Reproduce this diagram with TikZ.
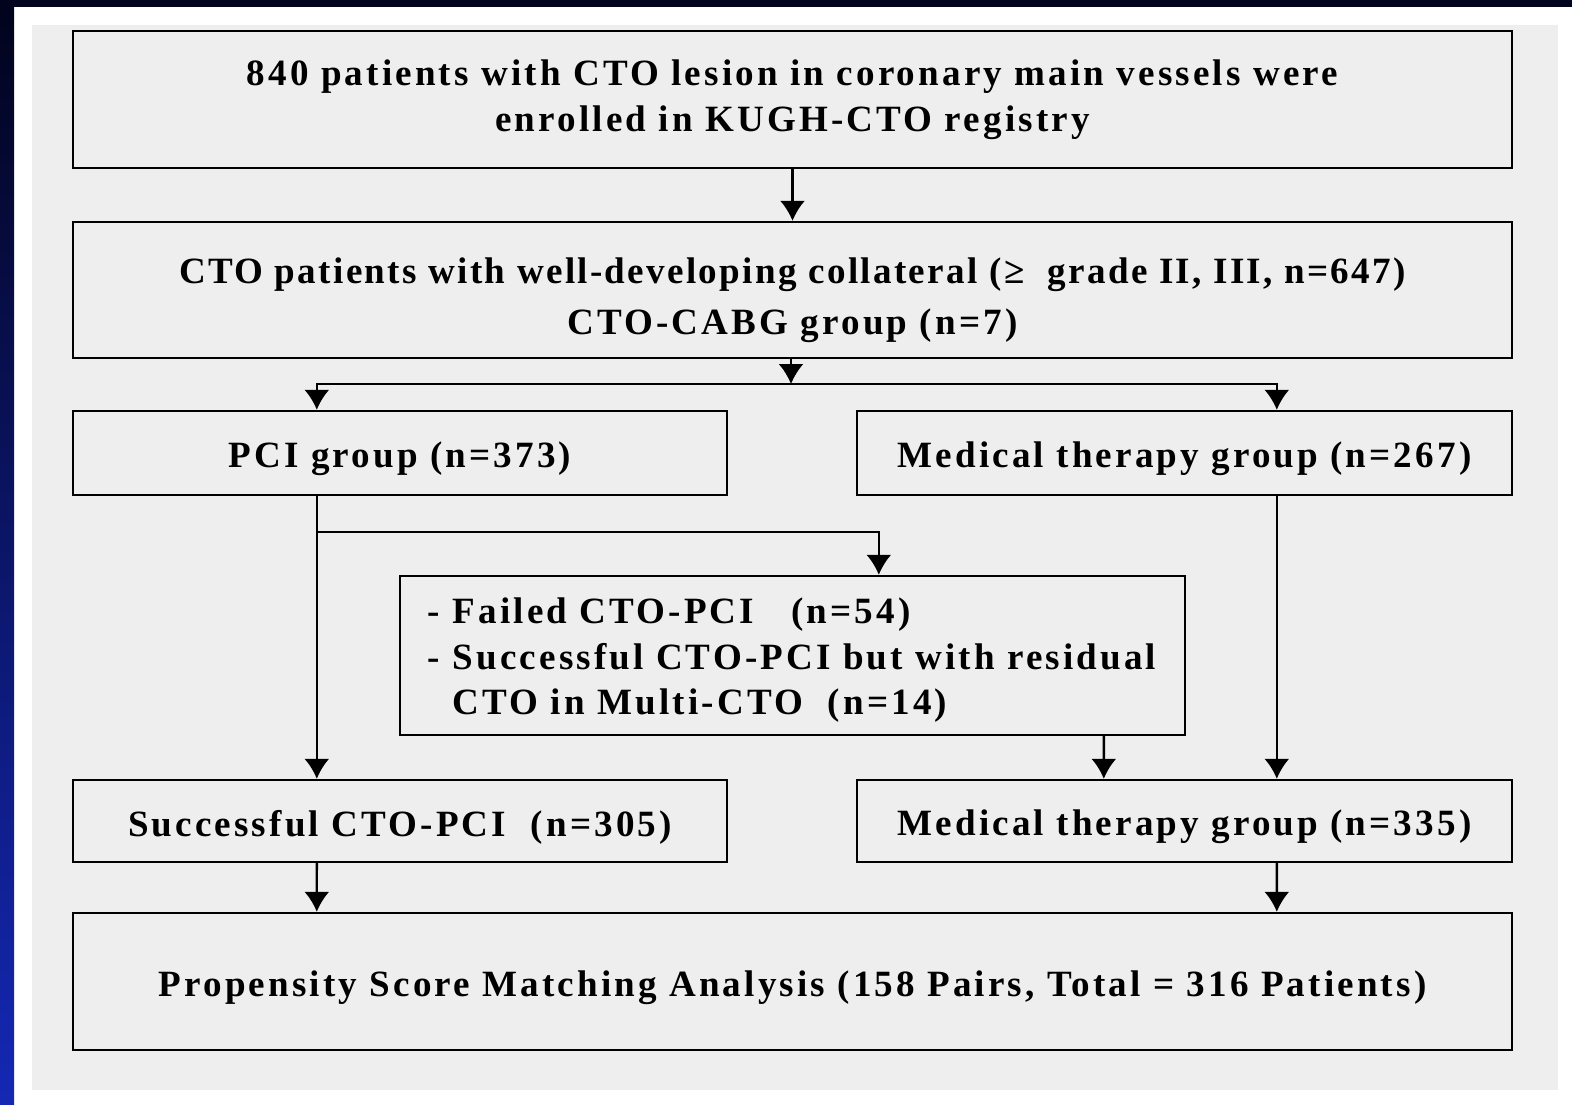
\documentclass[tikz,border=0pt]{standalone}
\usepackage{fontspec}
\setmainfont{Liberation Serif}[LetterSpace=8.5]
\usepackage{tikz}
\usetikzlibrary{arrows.meta}

\definecolor{slidenavy}{HTML}{02031C}
\definecolor{slideblue}{HTML}{1428B4}
\definecolor{panelgray}{HTML}{EEEEEE}

\newcommand{\lowstrut}{\rule{0pt}{19bp}}

\begin{document}
\begin{tikzpicture}[x=0.5bp, y=-0.5bp,
        main/.style = {draw, line width=1.2bp, fill=panelgray, inner sep=0pt, align=center,
                       font=\fontsize{18.6}{23}\selectfont\bfseries},
        arr/.style = {line width=1.2bp, -{Latex[length=10bp, width=12.5bp]}}]
    \useasboundingbox (0,0) rectangle (1572,1104);
    % slide background
    \fill[white] (0,0) rectangle (1572,1104);
    \shade[top color=slidenavy, bottom color=slideblue] (0,0) rectangle (14,1104);
    \fill[slidenavy] (0,0) rectangle (1572,7);
    \fill[panelgray] (32,25) rectangle (1558,1090);

    \node[main, minimum width=719.5bp, minimum height=68.5bp] (enroll) at (792.5,99.5)
        {840 patients with CTO lesion in coronary main vessels were\\ enrolled in KUGH-CTO registry};
    \node[main, minimum width=719.5bp, minimum height=68bp] (collat) at (792.5,290)
        {\rule{0pt}{23bp}{\addfontfeature{LetterSpace=6.3}CTO patients with well-developing collateral (≥\ \ grade II, III, n=647)}\\[3bp] CTO-CABG group (n=7)};
    \node[main, minimum width=327bp, minimum height=42bp] (pci) at (400,453) {\lowstrut PCI group (n=373)};
    \node[main, minimum width=327.5bp, minimum height=42bp] (med) at (1184.5,453) {\lowstrut Medical therapy group (n=267)};
    \node[main, minimum width=392.5bp, minimum height=79.5bp, align=left, text width=364.5bp,
          inner xsep=14bp] (fail) at (792.5,655.5)
        {\rule{0pt}{17.5bp}- Failed CTO-PCI \ \ (n=54)\\ - Successful CTO-PCI but with residual\\ \ \ CTO in Multi-CTO \ (n=14)};
    \node[main, minimum width=327bp, minimum height=41bp] (succ) at (400,821) {\lowstrut Successful CTO-PCI \ (n=305)};
    \node[main, minimum width=327.5bp, minimum height=41bp] (medall) at (1184.5,821) {\lowstrut Medical therapy group (n=335)};
    \node[main, minimum width=719.5bp, minimum height=68.5bp] (psm) at (792.5,981.5)
        {\lowstrut Propensity Score Matching Analysis (158 Pairs, Total = 316 Patients)};

    \coordinate (split) at (791,384);
    \coordinate (fork) at (318,532);

    \draw[arr] (enroll) -- (collat);
    \draw[arr] (collat.south -| split) -- (split);
    \draw[arr] (split) -| ([xshift=122.5bp]pci.north west);
    \draw[arr] (split) -| ([xshift=210.5bp]med.north west);

    \draw[arr] ([xshift=122.5bp]pci.south west) -- ([xshift=122.5bp]succ.north west);
    \draw[arr] (fork) -| ([xshift=240bp]fail.north west);
    \draw[arr] ([xshift=352.5bp]fail.south west) -- ([xshift=124bp]medall.north west);
    \draw[arr] ([xshift=210.5bp]med.south west) -- ([xshift=210.5bp]medall.north west);

    \draw[arr] ([xshift=122.5bp]succ.south west) -- ([xshift=122.5bp]psm.north west);
    \draw[arr] ([xshift=210.5bp]medall.south west) -- ([xshift=602.5bp]psm.north west);
\end{tikzpicture}
\end{document}
